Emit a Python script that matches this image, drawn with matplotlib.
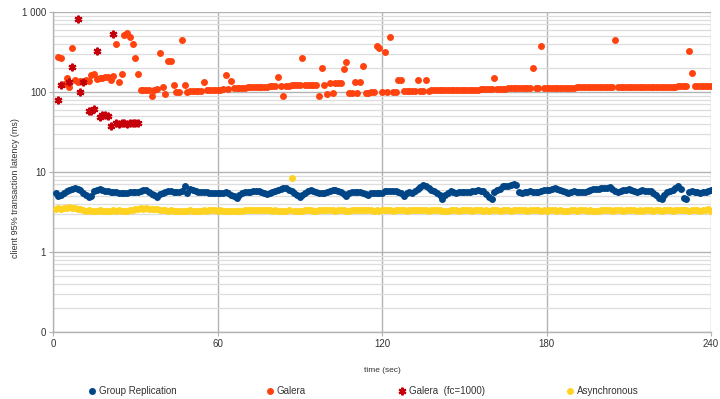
import numpy as np
import matplotlib
matplotlib.use("Agg")
import matplotlib.pyplot as plt
from matplotlib.ticker import LogLocator, NullFormatter

# group replication, 1 sample per second (t = 1..240)
gr_time = np.arange(1, 241)
gr_lat = [5.4, 5.0, 5.1, 5.5, 5.75, 5.9, 6.1, 6.3, 6.2, 5.9,
          5.5, 5.1, 4.9, 5.0, 5.8, 6.0, 6.1, 6.0, 5.8, 5.75,
          5.7, 5.6, 5.6, 5.5, 5.5, 5.5, 5.5, 5.55, 5.6, 5.65,
          5.6, 5.8, 6.0, 5.9, 5.6, 5.3, 5.1, 4.9, 5.3, 5.5,
          5.7, 5.8, 5.85, 5.7, 5.6, 5.7, 5.75, 6.7, 5.5, 6.1,
          5.9, 5.75, 5.7, 5.6, 5.6, 5.55, 5.5, 5.5, 5.45, 5.5,
          5.5, 5.5, 5.6, 5.4, 5.2, 5.0, 4.75, 5.2, 5.5, 5.55,
          5.6, 5.7, 5.8, 5.85, 5.75, 5.6, 5.4, 5.25, 5.4, 5.55,
          5.8, 6.0, 6.15, 6.25, 6.3, 6.0, 5.75, 5.4, 5.2, 4.9,
          5.2, 5.5, 5.8, 6.0, 5.8, 5.65, 5.5, 5.45, 5.4, 5.6,
          5.8, 5.9, 6.0, 5.8, 5.6, 5.3, 5.0, 5.5, 5.6, 5.65,
          5.6, 5.55, 5.5, 5.3, 5.2, 5.4, 5.5, 5.45, 5.4, 5.5,
          5.8, 5.85, 5.85, 5.8, 5.75, 5.6, 5.4, 5.0, 5.4, 5.6,
          5.5, 5.8, 6.1, 6.5, 6.9, 6.7, 6.3, 6.0, 5.8, 5.5,
          5.1, 4.65, 5.2, 5.5, 5.75, 5.6, 5.5, 5.55, 5.6, 5.6,
          5.6, 5.65, 5.75, 5.8, 5.9, 5.85, 5.75, 5.3, 4.9, 4.55,
          5.6, 5.9, 6.2, 6.6, 6.7, 6.76, 6.9, 7.15, 6.9, 5.6,
          5.5, 5.55, 5.65, 5.75, 5.7, 5.65, 5.7, 5.8, 5.9, 5.95,
          6.0, 6.15, 6.3, 6.15, 5.95, 5.75, 5.6, 5.5, 5.6, 5.75,
          5.7, 5.6, 5.6, 5.6, 5.8, 6.0, 6.05, 6.1, 6.15, 6.25,
          6.3, 6.4, 6.5, 6.1, 5.8, 5.6, 5.75, 5.9, 6.0, 6.1,
          6.0, 5.8, 5.6, 5.75, 5.9, 5.85, 5.8, 5.75, 5.4, 5.1,
          4.8, 4.6, 5.2, 5.6, 5.8, 6.0, 6.3, 6.6, 6.1, 4.8,
          4.6, 5.6, 5.75, 5.65, 5.6, 5.5, 5.55, 5.65, 5.8, 5.95]

# galera, t = 2..240
galera_time = np.arange(2, 241)
galera_lat = [272, 265, 127, 149, 115, 353, 142, 132, 137, 135,
              140, 137, 164, 169, 145, 149, 150, 152, 153, 142,
              159, 399, 135, 169, 517, 542, 484, 396, 265, 169,
              106, 107, 105, 107, 90, 107, 108, 305, 117, 95,
              245, 245, 123, 101, 99, 447, 123, 101, 102, 102,
              103, 103, 104, 135, 105, 106, 106, 106, 107, 107,
              108, 164, 110, 139, 111, 112, 112, 113, 113, 114,
              114, 115, 115, 116, 116, 117, 117, 118, 118, 118,
              153, 119, 90, 120, 120, 121, 121, 121, 122, 265,
              122, 122, 122, 123, 123, 90, 198, 123, 94, 129,
              97, 129, 129, 130, 193, 240, 98, 98, 135, 98,
              135, 212, 98, 98, 99, 99, 380, 353, 99, 320,
              99, 483, 100, 100, 142, 142, 102, 103, 103, 103,
              104, 142, 104, 104, 142, 104, 105, 105, 105, 105,
              105, 106, 106, 106, 106, 106, 106, 107, 107, 107,
              107, 107, 107, 107, 108, 108, 108, 108, 108, 149,
              110, 110, 110, 110, 111, 111, 111, 111, 111, 111,
              111, 111, 111, 198, 112, 112, 380, 112, 112, 112,
              112, 112, 113, 113, 113, 113, 113, 113, 113, 114,
              114, 114, 114, 114, 114, 114, 114, 115, 115, 115,
              115, 115, 115, 450, 115, 115, 115, 116, 116, 116,
              116, 116, 116, 116, 116, 116, 117, 117, 117, 117,
              117, 117, 117, 117, 117, 117, 118, 118, 118, 118,
              330, 172, 119, 120, 120, 120, 120, 120, 120]

# galera with fc_limit=1000, only the first ~30 s
fc_time = [2, 3, 6, 7, 9, 10, 11, 13, 14, 15, 16, 17, 18, 19, 20, 21, 22,
           23, 24, 25, 26, 27, 28, 29, 30, 31]
fc_lat = [80, 123, 135, 208, 818, 101, 135, 58, 58, 61, 326, 49, 51, 52, 50.5, 38, 532,
          41, 40, 41, 41, 40, 41, 41, 41, 41]

# asynchronous
async_time = np.arange(1, 241)
async_lat = [3.45, 3.5, 3.45, 3.5, 3.55, 3.7, 3.55, 3.5, 3.45, 3.4,
             3.35, 3.3, 3.32, 3.3, 3.28, 3.3, 3.32, 3.3, 3.28, 3.3,
             3.3, 3.32, 3.3, 3.35, 3.3, 3.28, 3.3, 3.32, 3.35, 3.4,
             3.45, 3.5, 3.48, 3.5, 3.45, 3.45, 3.42, 3.4, 3.38, 3.35,
             3.35, 3.3, 3.32, 3.3, 3.28, 3.3, 3.3, 3.25, 3.3, 3.32,
             3.3, 3.3, 3.28, 3.3, 3.32, 3.3, 3.33, 3.35, 3.32, 3.3,
             3.32, 3.3, 3.3, 3.28, 3.25, 3.22, 3.25, 3.3, 3.3, 3.32,
             3.35, 3.33, 3.35, 3.38, 3.35, 3.33, 3.35, 3.35, 3.32, 3.3,
             3.32, 3.3, 3.3, 3.28, 3.3, 3.32, 8.3, 3.3, 3.28, 3.3,
             3.3, 3.32, 3.33, 3.35, 3.3, 3.3, 3.32, 3.35, 3.35, 3.33,
             3.35, 3.33, 3.3, 3.32, 3.35, 3.33, 3.3, 3.3, 3.32, 3.35,
             3.37, 3.35, 3.33, 3.35, 3.35, 3.33, 3.3, 3.32, 3.3, 3.32,
             3.35, 3.35, 3.33, 3.3, 3.32, 3.35, 3.35, 3.33, 3.3, 3.32,
             3.35, 3.38, 3.35, 3.33, 3.35, 3.32, 3.3, 3.32, 3.35, 3.35,
             3.33, 3.3, 3.28, 3.3, 3.32, 3.35, 3.33, 3.3, 3.32, 3.33,
             3.35, 3.33, 3.3, 3.32, 3.35, 3.33, 3.3, 3.32, 3.3, 3.33,
             3.35, 3.32, 3.3, 3.33, 3.35, 3.33, 3.3, 3.32, 3.35, 3.37,
             3.35, 3.33, 3.3, 3.32, 3.33, 3.35, 3.33, 3.3, 3.32, 3.3,
             3.32, 3.35, 3.33, 3.3, 3.32, 3.3, 3.28, 3.3, 3.32, 3.33,
             3.3, 3.32, 3.35, 3.33, 3.3, 3.32, 3.3, 3.28, 3.3, 3.32,
             3.33, 3.35, 3.33, 3.3, 3.32, 3.35, 3.33, 3.3, 3.32, 3.33,
             3.35, 3.33, 3.3, 3.32, 3.3, 3.33, 3.35, 3.33, 3.3, 3.32,
             3.33, 3.3, 3.32, 3.35, 3.33, 3.3, 3.32, 3.35, 3.37, 3.35,
             3.33, 3.3, 3.32, 3.35, 3.33, 3.3, 3.32, 3.35, 3.4, 3.3]

x_ticks = [0, 60, 120, 180, 240]
y_ticks = [0.1, 1, 10, 100, 1000]
y_ticklabels = ['0', '1', '10', '100', '1 000']

plt.rc("font", family="Liberation Sans")
plt.rc("font", size=7)

fig = plt.figure(figsize=(7.2, 3.99), dpi=100)
ax = fig.add_axes([53 / 720, 67 / 399, 658 / 720, 320 / 399])

ms = 5.0
h1, = ax.plot(gr_time, gr_lat, 'o', color='#004586', ms=ms, mew=0, label='Group Replication', zorder=3)
h2, = ax.plot(galera_time, galera_lat, 'o', color='#ff420e', ms=ms, mew=0, label='Galera', zorder=4)
h3, = ax.plot(fc_time, fc_lat, linestyle='none', marker=(6, 2, 0), color='#c5000b', ms=5.5, mew=1.6,
              label='Galera  (fc=1000)', zorder=5)
h4, = ax.plot(async_time, async_lat, 'o', color='#ffd320', ms=ms, mew=0, label='Asynchronous', zorder=3)

ax.set_yscale('log')
ax.set_ylim(0.1, 1000)
ax.set_xlim(0, 240)
ax.set_yticks(y_ticks)
ax.set_yticklabels(y_ticklabels)
ax.yaxis.set_minor_locator(LogLocator(base=10, subs=np.arange(2, 10)))
ax.yaxis.set_minor_formatter(NullFormatter())
ax.set_xticks(x_ticks)

ax.grid(which='major', color='#b3b3b3', lw=1.0)
ax.grid(which='minor', axis='y', color='#dddddd', lw=0.9)
ax.set_axisbelow(True)
for s in ['top', 'right']:
    ax.spines[s].set_visible(False)
for s in ['left', 'bottom']:
    ax.spines[s].set_color('#b3b3b3')
    ax.spines[s].set_linewidth(1.0)
ax.tick_params(which='major', length=3, color='#b3b3b3', pad=2, labelcolor='#333333')
ax.tick_params(which='minor', length=0)

ax.set_xlabel('time (sec)', fontsize=6, labelpad=13, color='#333333')
ax.set_ylabel('client 95% transaction latency (ms)', fontsize=6.5, color='#333333')
ax.yaxis.set_label_coords(-0.05, 0.45)

# legend entries sit at fixed spots along the bottom, like the office chart
legend_x = [86, 264, 396, 564]
for h, lx in zip([h1, h2, h3, h4], legend_x):
    fig.legend(handles=[h], loc='center left', bbox_to_anchor=(lx / 720, 8 / 399),
               frameon=False, fontsize=7, handletextpad=0.1, handlelength=1.2,
               labelcolor='#333333', borderpad=0, borderaxespad=0)

plt.savefig('out.png', dpi=100)
